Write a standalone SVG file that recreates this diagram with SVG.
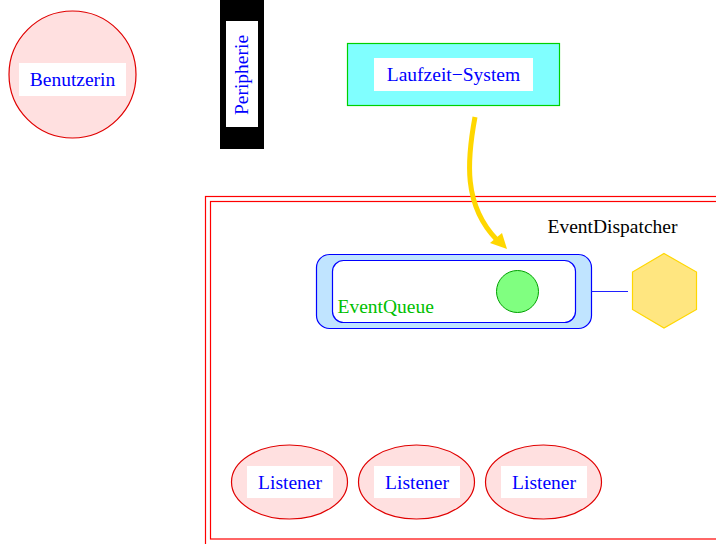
<svg xmlns="http://www.w3.org/2000/svg" width="716" height="544" viewBox="0 0 716 544">
<style>
.lbl{font-family:"Liberation Serif","Times New Roman",serif;font-size:19.5px;fill:#0000ff;text-anchor:middle}
.pink{fill:#ffe0e0;stroke:#e00000;stroke-width:1.2}
.wbox{fill:#ffffff}
.frame{fill:none;stroke:#ff0000;stroke-width:1.2}
</style>
<rect width="716" height="544" fill="#ffffff"/>
<g id="benutzerin">
<circle class="pink" cx="72.5" cy="74.5" r="63.5"/>
<rect class="wbox" x="19" y="63" width="107" height="33"/>
<text class="lbl" x="72.5" y="85.5">Benutzerin</text>
</g>
<g id="peripherie">
<rect x="220" y="0" width="44" height="149" fill="#000000"/>
<rect class="wbox" x="226" y="21" width="32" height="106"/>
<text class="lbl" transform="translate(248,75) rotate(-90)" x="0" y="0">Peripherie</text>
</g>
<g id="laufzeit">
<rect x="347.5" y="43.5" width="212" height="62" fill="#80ffff" stroke="#00d000" stroke-width="1.2"/>
<rect class="wbox" x="374" y="58" width="159" height="33"/>
<text class="lbl" x="453.5" y="81">Laufzeit−System</text>
</g>
<g id="eventdispatcher">
<rect class="frame" x="205.5" y="196.5" width="530" height="360"/>
<rect class="frame" x="210.5" y="201.5" width="520" height="337.5"/>
<text x="612.5" y="233" font-family="'Liberation Serif','Times New Roman',serif" font-size="19.5" fill="#000000" text-anchor="middle">EventDispatcher</text>
</g>
<g id="eventqueue">
<rect x="316.5" y="254.5" width="275" height="74" rx="13" fill="#c0e4ff" stroke="#0000ff" stroke-width="1.2"/>
<rect x="332.5" y="260.5" width="243" height="62" rx="11" fill="#ffffff" stroke="#0000ff" stroke-width="1.2"/>
<text x="337.5" y="313" font-family="'Liberation Serif','Times New Roman',serif" font-size="19.5" fill="#00c000">EventQueue</text>
<circle cx="517.5" cy="291.5" r="21" fill="#80ff80" stroke="#00a000" stroke-width="1"/>
</g>
<g id="hexagon">
<polygon points="664,253.5 696.5,272 696.5,309.5 664,328 632.5,309.5 632.5,272" fill="#ffe680" stroke="#ffd700" stroke-width="1.2"/>
</g>
<g id="listener1">
<ellipse class="pink" cx="289.5" cy="482" rx="58" ry="37"/>
<rect class="wbox" x="247" y="466" width="86" height="32"/>
<text class="lbl" x="290" y="489">Listener</text>
</g>
<g id="listener2">
<ellipse class="pink" cx="416.5" cy="482" rx="58" ry="37"/>
<rect class="wbox" x="374" y="466" width="86" height="32"/>
<text class="lbl" x="417" y="489">Listener</text>
</g>
<g id="listener3">
<ellipse class="pink" cx="543.5" cy="482" rx="58" ry="37"/>
<rect class="wbox" x="501" y="466" width="86" height="32"/>
<text class="lbl" x="544" y="489">Listener</text>
</g>
<g id="connectors">
<line x1="591.5" y1="291.5" x2="628" y2="291.5" stroke="#2020ff" stroke-width="1"/>
<path d="M475,117 C467,160 463,205 497,240" fill="none" stroke="#ffd700" stroke-width="5"/>
<polygon points="507,249 490,243 502,233" fill="#ffd700"/>
</g>
</svg>
